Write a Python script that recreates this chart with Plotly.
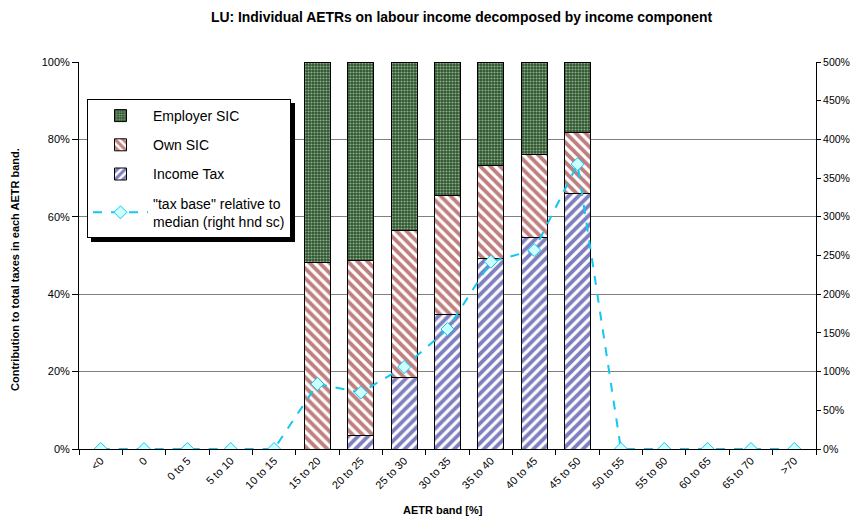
import plotly.graph_objects as go

categories = ["<0", "0", "0 to 5", "5 to 10", "10 to 15", "15 to 20", "20 to 25",
              "25 to 30", "30 to 35", "35 to 40", "40 to 45", "45 to 50", "50 to 55",
              "55 to 60", "60 to 65", "65 to 70", ">70"]
income_tax = [None, None, None, None, None, 0.0, 3.6, 18.4, 34.8, 49.3, 54.7, 66.1,
              None, None, None, None, None]
own_sic = [None, None, None, None, None, 48.1, 45.1, 38.1, 30.7, 24.0, 21.4, 15.7,
           None, None, None, None, None]
employer_sic = [None, None, None, None, None, 51.9, 51.3, 43.5, 34.5, 26.7, 23.9, 18.2,
                None, None, None, None, None]
tax_base = [0, 0, 0, 0, 0, 84, 73, 106, 155, 242, 257, 368, 0, 0, 0, 0, 0]

# page has an 8px body margin
OFF = 8
W, H = 858 - OFF, 508
L, R, T, B = 79, 816, 62, 449   # plot area in window pixels


def px(x):
    return (x - L) / (R - L)


def py(y):
    return (B - y) / (B - T)


FONT = "Liberation Sans, Arial, sans-serif"

fig = go.Figure()
fig.add_trace(go.Bar(
    x=categories, y=income_tax, name="Income Tax", legendrank=3, legendgroup="c",
    marker=dict(color="white", line=dict(color="black", width=1),
                pattern=dict(shape="/", fgcolor="#000080", bgcolor="white",
                             size=7, solidity=0.55, fillmode="overlay")),
))
fig.add_trace(go.Bar(
    x=categories, y=own_sic, name="Own SIC", legendrank=2, legendgroup="b",
    marker=dict(color="white", line=dict(color="black", width=1),
                pattern=dict(shape="\\", fgcolor="#800000", bgcolor="white",
                             size=7, solidity=0.55, fillmode="overlay")),
))
fig.add_trace(go.Bar(
    x=categories, y=employer_sic, name="Employer SIC", legendrank=1, legendgroup="a",
    marker=dict(color="#2A552A", line=dict(color="black", width=1),
                pattern=dict(shape=".", fgcolor="white", bgcolor="#2A552A",
                             size=3, solidity=0.4, fillmode="overlay")),
))
fig.add_trace(go.Scatter(
    x=categories, y=tax_base, yaxis="y2", mode="lines+markers",
    name="\"tax base\" relative to<br>median (right hnd sc)", legendrank=4, legendgroup="d",
    line=dict(color="#10C8F0", width=2, dash="dash"),
    marker=dict(symbol="diamond", size=10, color="#CCFFFF",
                line=dict(color="#10C8F0", width=1)),
))

fig.update_layout(
    width=W, height=H,
    margin=dict(l=L - OFF, r=W + OFF - R, t=T - OFF, b=H + OFF - B, autoexpand=False),
    paper_bgcolor="white", plot_bgcolor="white",
    barmode="stack", bargap=0.4,
    font=dict(family=FONT, size=11, color="black"),
    showlegend=True,
    legend=dict(x=px(87), y=py(99), xanchor="left", yanchor="top",
                bgcolor="white", bordercolor="black", borderwidth=1,
                font=dict(size=14), traceorder="grouped", tracegroupgap=8,
                itemwidth=55),
    xaxis=dict(type="category", range=[-0.5, 16.5], tickangle=-45, tickson="boundaries",
               ticks="outside", ticklen=5, tickcolor="black", showline=True,
               linecolor="black", showgrid=False, tickfont=dict(size=11),
               automargin=False),
    yaxis=dict(range=[0, 100], dtick=20, ticksuffix="%", ticks="outside", ticklen=6,
               tickcolor="black", showline=True, linecolor="black", showgrid=True,
               gridcolor="#808080", gridwidth=1, zeroline=False, tickfont=dict(size=11),
               automargin=False),
    yaxis2=dict(range=[0, 500], dtick=50, ticksuffix="%", overlaying="y", side="right",
                ticks="outside", ticklen=4, tickcolor="black", showline=True,
                linecolor="black", showgrid=False, zeroline=False,
                tickfont=dict(size=10.5), automargin=False),
    annotations=[
        dict(text="<b>LU: Individual AETRs on labour income decomposed by income component</b>",
             xref="paper", yref="paper", x=px(462), y=py(17), xanchor="center",
             yanchor="middle", showarrow=False, font=dict(size=13.9)),
        dict(text="<b>AETR band [%]</b>", xref="paper", yref="paper", x=px(443),
             y=py(510), xanchor="center", yanchor="middle", showarrow=False,
             font=dict(size=11)),
        dict(text="<b>Contribution to total taxes in each AETR band.</b>", xref="paper",
             yref="paper", x=px(15), y=py(270), xanchor="center", yanchor="middle",
             textangle=-90, showarrow=False, font=dict(size=11)),
    ],
    shapes=[
        dict(type="rect", xref="paper", yref="paper", x0=px(91), x1=px(295),
             y0=py(242), y1=py(103), fillcolor="black", line=dict(width=0),
             layer="above"),
    ],
)

fig.write_html("out.html")
